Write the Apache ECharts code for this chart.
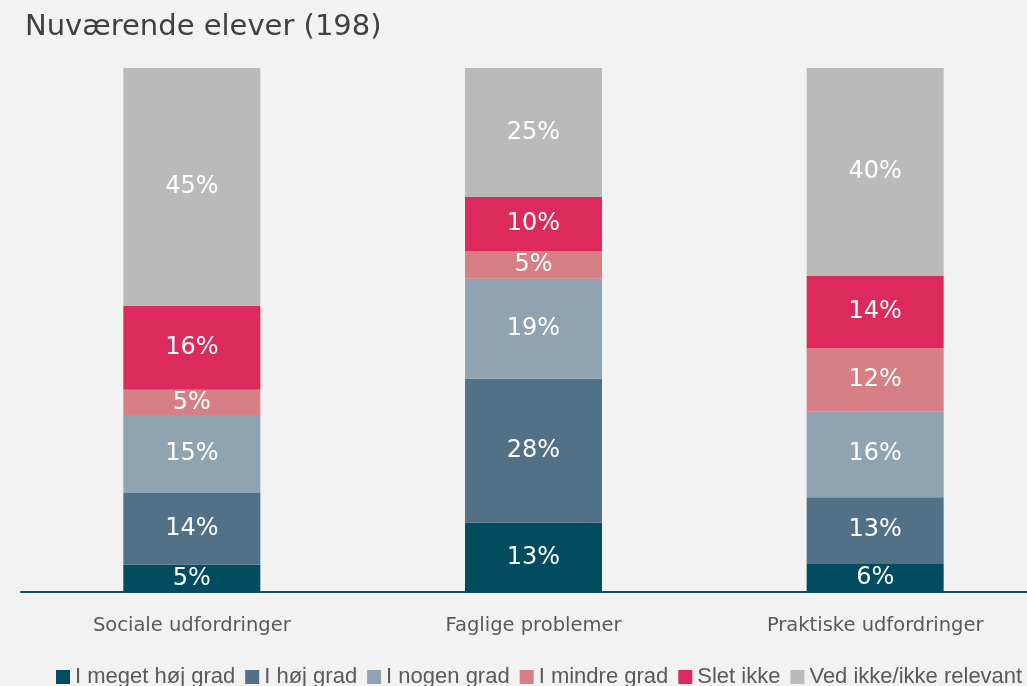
<!DOCTYPE html>
<html>
<head>
<meta charset="utf-8">
<script src="https://cdn.jsdelivr.net/npm/echarts@6/dist/echarts.min.js"></script>
<style>
  html, body { margin: 0; padding: 0; background: #f2f2f2; }
  #main { width: 1027px; height: 686px; }
</style>
</head>
<body>
<div id="main"></div>
<script>
// kategorier
const categories = ['Sociale udfordringer', 'Faglige problemer', 'Praktiske udfordringer']
const seriesNames = ['I meget høj grad', 'I høj grad', 'I nogen grad', 'I mindre grad', 'Slet ikke', 'Ved ikke/ikke relevant']
const colors = ['#024c60', '#537186', '#90a3b0', '#d68086', '#dd2a5d', '#bababa']

// andele i procent (aflæst af søjlehøjderne)
const meget = [5.2, 13.2, 5.5]
const hoej = [13.7, 27.5, 12.6]
const nogen = [14.9, 19.1, 16.4]
const mindre = [4.8, 5.2, 12.0]
const slet = [16.0, 10.4, 13.8]
const vedIkke = [45.4, 24.6, 39.7]

const values = [meget, hoej, nogen, mindre, slet, vedIkke]

const myChart = echarts.init(document.getElementById('main'))

const option = {
  backgroundColor: '#f2f2f2',
  title: {
    text: 'Nuværende elever (198)',
    left: 20,
    top: 8,
    textStyle: {
      fontFamily: 'DejaVu Sans',
      fontWeight: 'normal',
      fontSize: 29,
      color: '#404040'
    }
  },
  legend: {
    top: 666,
    left: 56,
    itemWidth: 14,
    itemHeight: 14,
    itemGap: 10,
    icon: 'rect',
    padding: 0,
    textStyle: {
      fontFamily: 'Liberation Sans',
      fontSize: 22,
      color: '#595959'
    },
    data: seriesNames
  },
  grid: {
    left: 21,
    width: 1025,
    top: 68,
    bottom: 94,
    containLabel: false,
    outerBoundsMode: 'none'
  },
  xAxis: {
    type: 'category',
    data: categories,
    axisLine: { lineStyle: { color: '#0b4d62', width: 2 } },
    axisTick: { show: false },
    axisLabel: {
      fontFamily: 'DejaVu Sans',
      fontSize: 19.5,
      color: '#595959',
      margin: 24
    }
  },
  yAxis: {
    type: 'value',
    min: 0,
    max: 100,
    show: false,
    splitLine: { show: false }
  },
  series: seriesNames.map((name, i) => ({
    name: name,
    type: 'bar',
    stack: 'total',
    barWidth: 137,
    data: values[i],
    itemStyle: { color: colors[i] },
    label: {
      show: true,
      position: 'inside',
      fontFamily: 'DejaVu Sans',
      fontSize: 24,
      color: '#ffffff',
      formatter: p => Math.round(p.value) + '%'
    }
  }))
}
myChart.setOption(option)
</script>
</body>
</html>
